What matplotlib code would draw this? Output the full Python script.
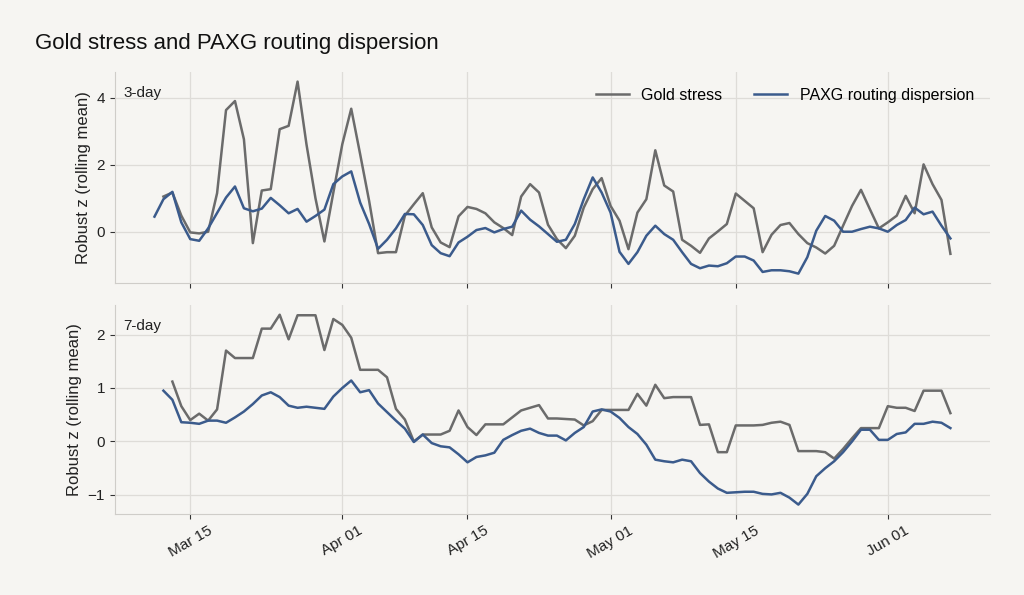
import numpy as np
import pandas as pd
import matplotlib
matplotlib.use("Agg")
import matplotlib.pyplot as plt
import matplotlib.dates as mdates

plt.rcParams["font.family"] = ["Liberation Sans", "DejaVu Sans"]

# Data (daily, Mar 11 .. Jun 08)
dates = pd.date_range("2024-03-11", "2024-06-08", freq="D")

gold_3d = [np.nan,
    1.05, 1.17, 0.48, -0.02, -0.05, 0.00, 1.15, 3.63, 3.90, 2.76,
    -0.34, 1.23, 1.27, 3.06, 3.16, 4.48, 2.60, 1.00, -0.29, 1.17,
    2.61, 3.67, 2.31, 0.92, -0.64, -0.61, -0.61, 0.48, 0.82, 1.15,
    0.13, -0.32, -0.46, 0.46, 0.74, 0.68, 0.55, 0.28, 0.11, -0.10,
    1.05, 1.42, 1.17, 0.21, -0.22, -0.49, -0.12, 0.72, 1.27, 1.60,
    0.77, 0.33, -0.52, 0.57, 0.97, 2.43, 1.38, 1.20, -0.24, -0.42,
    -0.63, -0.20, 0.01, 0.23, 1.14, 0.92, 0.70, -0.61, -0.09, 0.20,
    0.26, -0.07, -0.34, -0.47, -0.65, -0.42, 0.18, 0.77, 1.25, 0.67,
    0.10, 0.28, 0.48, 1.07, 0.55, 2.01, 1.42, 0.95, -0.66]

paxg_3d = [0.45,
    0.97, 1.19, 0.28, -0.22, -0.27, 0.10, 0.56, 1.02, 1.35, 0.70,
    0.61, 0.69, 1.01, 0.79, 0.55, 0.68, 0.30, 0.47, 0.66, 1.42,
    1.65, 1.80, 0.87, 0.23, -0.51, -0.24, 0.10, 0.53, 0.52, 0.20,
    -0.40, -0.64, -0.73, -0.32, -0.15, 0.05, 0.11, -0.02, 0.08, 0.15,
    0.63, 0.36, 0.16, -0.07, -0.30, -0.24, 0.23, 0.97, 1.62, 1.17,
    0.57, -0.60, -0.96, -0.61, -0.12, 0.18, -0.07, -0.24, -0.61, -0.96,
    -1.09, -1.01, -1.03, -0.94, -0.74, -0.74, -0.86, -1.20, -1.15, -1.15,
    -1.18, -1.25, -0.76, 0.03, 0.47, 0.33, 0.00, 0.00, 0.08, 0.15,
    0.10, 0.00, 0.20, 0.35, 0.72, 0.52, 0.60, 0.18, -0.20]

gold_7d = [np.nan, np.nan,
    1.12, 0.66, 0.40, 0.52, 0.39, 0.60, 1.70, 1.56, 1.56, 1.56,
    2.11, 2.11, 2.37, 1.91, 2.36, 2.36, 2.36, 1.71, 2.29, 2.18,
    1.94, 1.34, 1.34, 1.34, 1.20, 0.61, 0.41, 0.00, 0.13, 0.13,
    0.13, 0.20, 0.58, 0.27, 0.12, 0.32, 0.32, 0.32, 0.45, 0.58,
    0.63, 0.68, 0.43, 0.43, 0.42, 0.41, 0.30, 0.38, 0.59, 0.59,
    0.59, 0.59, 0.89, 0.67, 1.06, 0.81, 0.83, 0.83, 0.83, 0.31,
    0.32, -0.20, -0.20, 0.30, 0.30, 0.30, 0.31, 0.35, 0.37, 0.31,
    -0.18, -0.18, -0.18, -0.20, -0.32, -0.14, 0.06, 0.25, 0.25, 0.25,
    0.66, 0.63, 0.63, 0.57, 0.95, 0.95, 0.95, 0.53]

paxg_7d = [np.nan,
    0.95, 0.78, 0.36, 0.35, 0.33, 0.39, 0.39, 0.35, 0.45, 0.56,
    0.70, 0.86, 0.92, 0.83, 0.67, 0.63, 0.65, 0.63, 0.61, 0.84,
    1.00, 1.14, 0.92, 0.96, 0.71, 0.55, 0.39, 0.24, -0.01, 0.13,
    -0.03, -0.09, -0.11, -0.24, -0.39, -0.29, -0.26, -0.21, 0.03, 0.12,
    0.20, 0.24, 0.16, 0.11, 0.11, 0.02, 0.16, 0.27, 0.56, 0.60,
    0.56, 0.44, 0.27, 0.14, -0.06, -0.34, -0.37, -0.39, -0.34, -0.37,
    -0.59, -0.75, -0.88, -0.96, -0.95, -0.94, -0.94, -0.98, -0.99, -0.96,
    -1.05, -1.18, -0.98, -0.65, -0.50, -0.37, -0.20, 0.00, 0.22, 0.22,
    0.03, 0.03, 0.14, 0.17, 0.33, 0.33, 0.37, 0.35, 0.25]

panels = [("3-day", gold_3d, paxg_3d), ("7-day", gold_7d, paxg_7d)]

# Style
BG = "#f6f5f2"
GOLD_COLOR = "#6b6b6b"
PAXG_COLOR = "#3b5b8c"
GRID_COLOR = "#dedcd8"
SPINE_COLOR = "#cfcdc9"

fig = plt.figure(figsize=(10.24, 5.95), dpi=100, facecolor=BG)
ax_top = fig.add_axes([0.112, 0.524, 0.855, 0.355])
ax_bot = fig.add_axes([0.112, 0.136, 0.855, 0.351], sharex=ax_top)

for ax, (label, gold, paxg) in zip([ax_top, ax_bot], panels):
    ax.set_facecolor(BG)
    ax.plot(dates, gold, color=GOLD_COLOR, lw=1.8, label="Gold stress")
    ax.plot(dates, paxg, color=PAXG_COLOR, lw=1.8, label="PAXG routing dispersion")
    ax.grid(True, color=GRID_COLOR, lw=0.9)
    ax.set_axisbelow(True)
    for side in ["top", "right"]:
        ax.spines[side].set_visible(False)
    for side in ["left", "bottom"]:
        ax.spines[side].set_color(SPINE_COLOR)
    ax.tick_params(axis="both", length=3.5, width=0.8, color="#333333",
                   labelsize=11, labelcolor="#222222")
    ax.set_ylabel("Robust z (rolling mean)", fontsize=12, color="#222222")
    ax.text(0.01, 0.935, label, transform=ax.transAxes, ha="left", va="top",
            fontsize=11, color="#222222")

ax_top.xaxis.set_major_locator(mdates.DayLocator(bymonthday=[1, 15]))
ax_top.xaxis.set_major_formatter(mdates.DateFormatter("%b %d"))
plt.setp(ax_top.get_xticklabels(), visible=False)
plt.setp(ax_bot.get_xticklabels(), rotation=30, ha="center")

ax_top.set_yticks([0, 2, 4])
ax_bot.set_yticks([-1, 0, 1, 2])

ax_top.legend(loc="upper right", ncol=2, frameon=False, fontsize=11.5,
              handlelength=2.05, columnspacing=2.0, borderaxespad=0.6)

fig.text(0.034, 0.927, "Gold stress and PAXG routing dispersion",
         fontsize=16, color="#111111", ha="left", va="center")

fig.savefig("out.png", dpi=100, facecolor=BG)
